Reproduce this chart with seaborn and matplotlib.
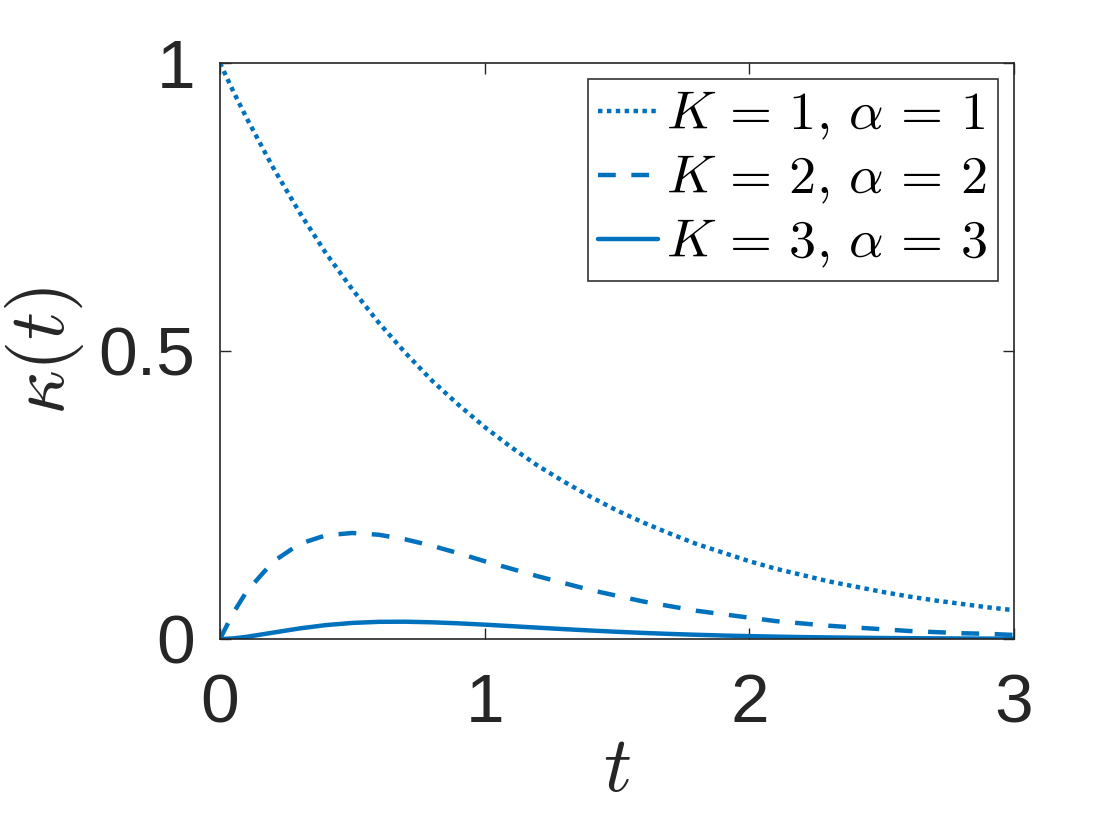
import matplotlib
matplotlib.use('Agg')
import matplotlib.pyplot as plt
import seaborn as sns
import pandas as pd

# time samples
t = [0.0, 0.05, 0.1, 0.2, 0.3, 0.4, 0.5, 0.6, 0.7, 0.8, 0.9, 1.0,
     1.1, 1.2, 1.3, 1.4, 1.5, 1.6, 1.7, 1.8, 1.9, 2.0,
     2.1, 2.2, 2.3, 2.4, 2.5, 2.6, 2.7, 2.8, 2.9, 3.0]

# K=1, alpha=1 (dotted)
kappa_1 = [1.0, 0.951, 0.905, 0.819, 0.741, 0.670, 0.607, 0.549, 0.497, 0.449, 0.407, 0.368,
           0.333, 0.301, 0.273, 0.247, 0.223, 0.202, 0.183, 0.165, 0.150, 0.135,
           0.122, 0.111, 0.100, 0.091, 0.082, 0.074, 0.067, 0.061, 0.055, 0.050]
# K=2, alpha=2 (dashed)
kappa_2 = [0.0, 0.045, 0.082, 0.134, 0.165, 0.180, 0.184, 0.181, 0.173, 0.162, 0.149, 0.135,
           0.122, 0.109, 0.097, 0.085, 0.075, 0.065, 0.057, 0.049, 0.043, 0.037,
           0.031, 0.027, 0.023, 0.020, 0.017, 0.014, 0.012, 0.010, 0.009, 0.007]
# K=3, alpha=3 (solid)
kappa_3 = [0.0, 0.001, 0.0037, 0.011, 0.0183, 0.0241, 0.0279, 0.0298, 0.0300, 0.0290, 0.0272, 0.0249,
           0.0223, 0.0197, 0.0171, 0.0147, 0.0125, 0.0105, 0.0088, 0.0073, 0.0060, 0.0050,
           0.0041, 0.0033, 0.0027, 0.0022, 0.0017, 0.0014, 0.0011, 0.0009, 0.0007, 0.0006]

labels = [r'$K\,=\,1,\,\alpha\,=\,1$', r'$K\,=\,2,\,\alpha\,=\,2$', r'$K\,=\,3,\,\alpha\,=\,3$']
x_ticks = [0, 1, 2, 3]
y_ticks = [0, 0.5, 1]
y_tick_labels = ['0', '0.5', '1']

sns.set_theme(style='white')
plt.rcParams['font.family'] = ['Liberation Sans', 'DejaVu Sans']
plt.rcParams['mathtext.fontset'] = 'cm'

blue = '#0072BD'
text_col = '#262626'

fig = plt.figure(figsize=(11.2, 8.4), dpi=100)
ax = fig.add_axes([0.1964, 0.2393, 0.709, 0.6857])

sns.lineplot(x=t, y=kappa_1, ax=ax, color=blue, lw=3.2, label=labels[0])
ax.lines[-1].set_linestyle((0, (1, 1)))
sns.lineplot(x=t, y=kappa_2, ax=ax, color=blue, lw=3.2, label=labels[1])
ax.lines[-1].set_linestyle((0, (4, 3.5)))
sns.lineplot(x=t, y=kappa_3, ax=ax, color=blue, lw=3.2, label=labels[2])

ax.set_xlim(0, 3)
ax.set_ylim(0, 1)
ax.set_xticks(x_ticks)
ax.set_xticklabels([str(v) for v in x_ticks])
ax.set_yticks(y_ticks)
ax.set_yticklabels(y_tick_labels)
ax.tick_params(axis='both', direction='in', length=8, width=1, colors=text_col,
               labelsize=50, top=True, right=True, bottom=True, left=True)
ax.tick_params(axis='x', pad=24)
ax.tick_params(axis='y', pad=18)
for s in ax.spines.values():
    s.set_color(text_col)
    s.set_linewidth(1.2)

ax.set_xlabel(r'$t$', fontsize=56, color=text_col, labelpad=-2)
ax.set_ylabel(r'$\kappa(t)$', fontsize=56, color=text_col, labelpad=9)

leg = ax.legend(loc='upper right', fontsize=39, frameon=True, fancybox=False,
                handlelength=1.1, handletextpad=0.15, labelspacing=0.22,
                borderpad=0.2, borderaxespad=0.3, labelcolor='black')
leg.get_frame().set_edgecolor('black')
leg.get_frame().set_linewidth(1.2)

fig.savefig('out.png', dpi=100, facecolor='white')
